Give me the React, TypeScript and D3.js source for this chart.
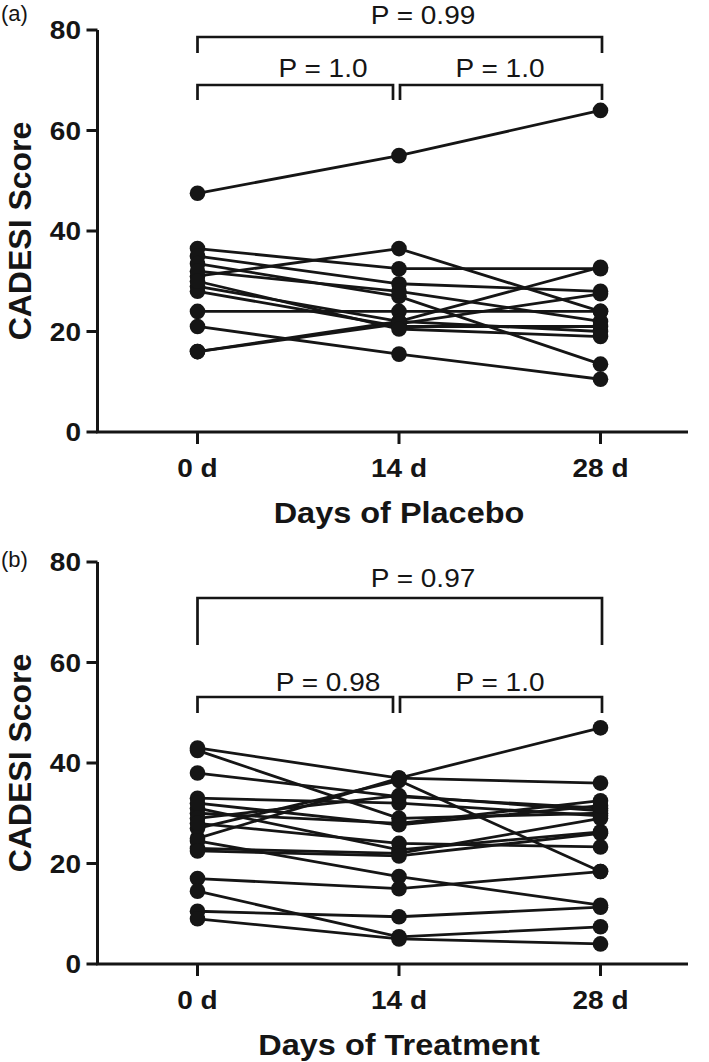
import React from "react";
import * as d3 from "d3";

const timepoints = [0, 14, 28];
const xTickLabels = ["0 d", "14 d", "28 d"];
const yTicks = [0, 20, 40, 60, 80];

// Placebo (panel a), one entry per dog
const placeboDay0 = [47.5, 36.5, 35, 31, 33.5, 32, 29, 28, 24, 21, 16, 16, 30];
const placeboDay14 = [55, 32.5, 29.5, 36.5, 27, 28, 22, 21, 24, 15.5, 22, 21.5, 20.5];
const placeboDay28 = [64, 32.5, 28, 24, 13.5, 22, 20, 21, 24, 10.5, 32.8, 27.5, 19];

// Treatment (panel b)
const treatmentDay0 = [43, 42.5, 38, 25, 27, 33, 31, 30, 29, 28, 23, 24.5, 22.5, 17, 14.5, 10.5, 9, 32];
const treatmentDay14 = [37, 29, 33.3, 37, 36.5, 32, 22.7, 28, 33.5, 24, 22, 17.4, 21.5, 15, 5.4, 9.4, 5, 27.7];
const treatmentDay28 = [47, 30, 31, 36, 18.4, 29.5, 26.3, 32.5, 30.5, 23.3, 29, 11.7, 26, 18.4, 7.4, 11.3, 4, 31.5];

const placeboP = ["P = 0.99", "P = 1.0", "P = 1.0"];
const treatmentP = ["P = 0.97", "P = 0.98", "P = 1.0"];

const INK = "#151515";
const FONT = "'Liberation Sans', Arial, Helvetica, sans-serif";
const SX = 1.12;

function Txt({
  x,
  y,
  size,
  bold,
  anchor,
  dy,
  children,
}: {
  x: number;
  y: number;
  size: number;
  bold?: boolean;
  anchor?: string;
  dy?: string;
  children: React.ReactNode;
}) {
  return (
    <text
      transform={`translate(${x},${y}) scale(${SX},1)`}
      dy={dy}
      textAnchor={anchor || "start"}
      fontFamily={FONT}
      fontWeight={bold ? "bold" : "normal"}
      fontSize={size}
      fill={INK}
    >
      {children}
    </text>
  );
}

type PanelProps = {
  top: number;
  letter: string;
  letterY: number;
  d0: number[];
  d14: number[];
  d28: number[];
  pLabels: string[];
  xTitle: string;
  topBracket: { y: number; drop: number; textY: number };
  subBracket: { y: number; drop: number; textY: number; leftTextX: number };
};

function Panel({ top, letter, letterY, d0, d14, d28, pLabels, xTitle, topBracket, subBracket }: PanelProps) {
  const x = d3.scaleLinear().domain([0, 28]).range([197.5, 600.5]);
  const y = d3.scaleLinear().domain([0, 80]).range([top + 402, top]);
  const axisX = 97.5;
  const axisRight = 688;
  const y0 = y(0);
  const subjects = d0.map((v, i) => [v, d14[i], d28[i]]);
  const line = d3
    .line<number>()
    .x((_, i) => x(timepoints[i]))
    .y((v) => y(v));

  const bracket = (xa: number, xb: number, by: number, drop: number) =>
    `M${xa},${by + drop}V${by}H${xb}V${by + drop}`;

  const yMid = (y(0) + y(80)) / 2;

  return (
    <g>
      <text x={1} y={letterY} fontFamily={FONT} fontSize={22} fill={INK}>
        {letter}
      </text>
      {/* y axis */}
      <line x1={axisX} x2={axisX} y1={y(80)} y2={y0} stroke={INK} strokeWidth={3} />
      {yTicks.map((t) => (
        <g key={t}>
          <line x1={axisX - 11} x2={axisX} y1={y(t)} y2={y(t)} stroke={INK} strokeWidth={3} />
          <Txt x={81} y={y(t)} dy="0.36em" anchor="end" bold size={25}>
            {t}
          </Txt>
        </g>
      ))}
      <text
        transform={`translate(31,${yMid}) rotate(-90)`}
        textAnchor="middle"
        fontFamily={FONT}
        fontWeight="bold"
        fontSize={32}
        fill={INK}
      >
        CADESI Score
      </text>
      {/* x axis */}
      <line x1={axisX - 1.5} x2={axisRight} y1={y0} y2={y0} stroke={INK} strokeWidth={3} />
      {timepoints.map((t, i) => (
        <g key={t}>
          <line x1={x(t)} x2={x(t)} y1={y0} y2={y0 + 12} stroke={INK} strokeWidth={3} />
          <Txt x={x(t)} y={y0 + 45} anchor="middle" bold size={25}>
            {xTickLabels[i]}
          </Txt>
        </g>
      ))}
      <Txt x={(x(0) + x(28)) / 2} y={y0 + 91} anchor="middle" bold size={29}>
        {xTitle}
      </Txt>
      {/* data */}
      {subjects.map((s, i) => (
        <path key={"l" + i} d={line(s) || ""} fill="none" stroke={INK} strokeWidth={2.8} />
      ))}
      {subjects.map((s, i) =>
        s.map((v, j) => <circle key={"c" + i + "-" + j} cx={x(timepoints[j])} cy={y(v)} r={7.8} fill={INK} />)
      )}
      {/* significance brackets */}
      <path d={bracket(x(0), x(28) + 1.5, topBracket.y, topBracket.drop)} fill="none" stroke={INK} strokeWidth={2.7} />
      <Txt x={423} y={topBracket.textY} anchor="middle" size={25}>
        {pLabels[0]}
      </Txt>
      <path d={bracket(x(0), x(14) - 6, subBracket.y, subBracket.drop)} fill="none" stroke={INK} strokeWidth={2.7} />
      <path d={bracket(x(14) + 1, x(28) + 1.5, subBracket.y, subBracket.drop)} fill="none" stroke={INK} strokeWidth={2.7} />
      <Txt x={subBracket.leftTextX} y={subBracket.textY} anchor="middle" size={25}>
        {pLabels[1]}
      </Txt>
      <Txt x={500} y={subBracket.textY} anchor="middle" size={25}>
        {pLabels[2]}
      </Txt>
    </g>
  );
}

export default function App() {
  return (
    <svg
      width={709}
      height={1062}
      style={{ position: "absolute", left: 0, top: 0, background: "#fff" }}
    >
      <rect width={709} height={1062} fill="#fff" />
      <Panel
        top={30}
        letter="(a)"
        letterY={21}
        d0={placeboDay0}
        d14={placeboDay14}
        d28={placeboDay28}
        pLabels={placeboP}
        xTitle="Days of Placebo"
        topBracket={{ y: 37, drop: 16, textY: 24 }}
        subBracket={{ y: 85, drop: 15, textY: 77, leftTextX: 323 }}
      />
      <Panel
        top={562}
        letter="(b)"
        letterY={567}
        d0={treatmentDay0}
        d14={treatmentDay14}
        d28={treatmentDay28}
        pLabels={treatmentP}
        xTitle="Days of Treatment"
        topBracket={{ y: 598, drop: 47, textY: 587 }}
        subBracket={{ y: 697, drop: 16, textY: 691, leftTextX: 328 }}
      />
    </svg>
  );
}
